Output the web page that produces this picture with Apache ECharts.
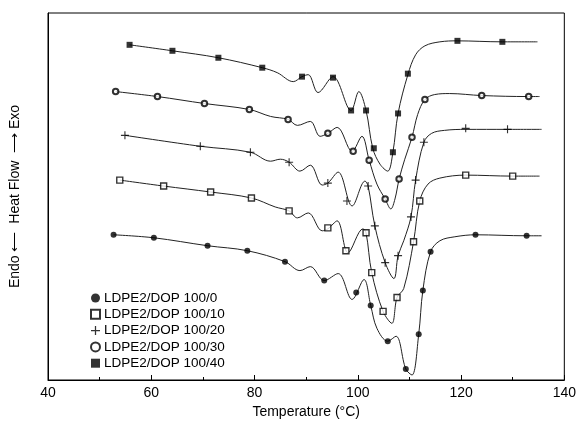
<!DOCTYPE html>
<html>
<head>
<meta charset="utf-8">
<script src="https://cdn.jsdelivr.net/npm/echarts@6/dist/echarts.min.js"></script>
<style>
html, body { margin: 0; background: #fff; }
#main { width: 579px; height: 424px; }
</style>
</head>
<body>
<div id="main"></div>
<script>
// curves: [temperature, heat flow (arb. units, offset per sample)]
var curve0 = [[52.7,146],[60.5,143],[70.9,135],[78.6,130],[85.9,119],[88.8,110],[90.8,114],[93.5,100],[96.2,107],[98.9,81],[101.2,101],[102.5,75],[103.7,52],[105.8,39],[107.4,44],[109.3,11],[110.5,5],[111.8,46],[112.6,90],[114.1,129],[115.9,140],[118.8,144],[122.8,146],[132.7,145],[135.6,145]];
var curve10 = [[53.9,201],[62.4,195],[71.5,189],[79.4,183],[84.0,174],[86.7,170],[88.3,163],[90.4,168],[93.1,150],[94.2,152],[96.0,160],[98.1,128],[101.0,152],[101.6,148],[102.7,108],[104.9,69],[106.6,57],[107.6,83],[108.9,92],[110.8,139],[112.0,180],[113.6,197],[115.9,203],[120.9,206],[130.0,205],[135.2,205]];
var curve20 = [[54.9,246],[69.5,235],[79.2,229],[83.1,220],[85.0,222],[86.7,219],[88.8,210],[90.8,216],[93.1,196],[94.2,198],[96.2,209],[98.9,175],[101.4,200],[102.0,195],[103.3,155],[105.3,118],[107.0,102],[107.8,125],[108.9,140],[110.3,164],[111.2,201],[112.8,239],[114.3,248],[116.8,251],[120.9,252],[129.0,252],[135.6,252]];
var curve30 = [[53.1,290],[61.2,285],[70.3,278],[79.0,272],[83.1,265],[86.5,262],[88.3,256],[90.8,260],[92.7,245],[94.2,248],[96.0,254],[98.9,230],[100.8,245],[102.2,221],[103.7,197],[105.3,182],[106.4,172],[107.2,182],[108.0,202],[109.1,222],[110.5,244],[111.6,267],[113.0,282],[114.9,287],[117.8,288],[124.0,286],[133.1,285],[135.2,285]];
var curve40 = [[55.8,337],[64.1,331],[73.0,324],[81.5,314],[84.4,309],[87.5,300],[89.2,305],[90.4,307],[92.3,289],[95.2,305],[98.7,271],[100.2,290],[101.6,271],[102.9,233],[104.3,217],[105.8,210],[106.8,229],[107.8,268],[109.7,307],[111.2,327],[113.0,336],[115.9,340],[119.3,341],[128.0,340],[134.8,340]];

// symbols along each curve
var marks0 = [[52.7,146],[60.5,143],[70.9,135],[78.6,130],[85.9,119],[93.5,100],[99.7,88],[102.5,75],[105.8,39],[109.3,11],[111.8,46],[112.6,90],[114.1,129],[122.8,146],[132.7,145]];
var marks10 = [[53.9,201],[62.4,195],[71.5,189],[79.4,183],[86.7,170],[94.2,153],[97.7,130],[101.6,148],[102.7,108],[104.9,69],[107.6,83],[110.8,139],[112.0,180],[120.9,206],[130.0,205]];
var marks20 = [[54.9,246],[69.5,235],[79.2,229],[86.7,219],[94.2,198],[97.9,180],[102.0,195],[103.3,155],[105.3,118],[107.8,125],[110.3,164],[111.2,201],[112.8,239],[120.9,253],[129.0,252]];
var marks30 = [[53.1,290],[61.2,285],[70.3,278],[79.0,272],[86.5,262],[94.2,248],[99.1,230],[102.2,221],[105.3,182],[108.0,202],[110.5,244],[113.0,282],[124.0,286],[133.1,285]];
var marks40 = [[55.8,337],[64.1,331],[73.0,324],[81.5,314],[89.2,305],[95.2,304],[98.7,271],[101.6,271],[103.1,233],[106.8,229],[107.8,268],[109.7,308],[119.3,341],[128.0,340]];

var names = ['LDPE2/DOP 100/0', 'LDPE2/DOP 100/10', 'LDPE2/DOP 100/20', 'LDPE2/DOP 100/30', 'LDPE2/DOP 100/40'];
var xTicks = [40, 60, 80, 100, 120, 140];

var curves = [curve0, curve10, curve20, curve30, curve40];
var marks = [marks0, marks10, marks20, marks30, marks40];

var crossPath = 'path://M4.3,0H5.7V4.3H10V5.7H5.7V10H4.3V5.7H0V4.3H4.3Z';
var symStyles = [
	{ symbol: 'circle', size: 6, itemStyle: { color: '#000' } },
	{ symbol: 'rect', size: 6, itemStyle: { color: '#fff', borderColor: '#000', borderWidth: 1.4 } },
	{ symbol: crossPath, size: 8, itemStyle: { color: '#000' } },
	{ symbol: 'circle', size: 5.5, itemStyle: { color: '#fff', borderColor: '#000', borderWidth: 2 } },
	{ symbol: 'rect', size: 6, itemStyle: { color: '#000' } }
];

var series = [];
curves.forEach(function (c, i) {
	series.push({
		name: 'line' + i,
		type: 'line',
		data: c,
		smooth: 0.35,
		showSymbol: false,
		lineStyle: { color: '#222', width: 1 },
		z: 2
	});
});
marks.forEach(function (m, i) {
	series.push({
		name: names[i],
		type: 'scatter',
		data: m,
		symbol: symStyles[i].symbol,
		symbolSize: symStyles[i].size,
		itemStyle: symStyles[i].itemStyle,
		z: 5
	});
});

var myChart = echarts.init(document.getElementById('main'));
myChart.setOption({
	animation: false,
	backgroundColor: '#fff',
	textStyle: { fontFamily: 'Liberation Sans, Arial, sans-serif' },
	grid: {
		left: 47, right: 14, top: 13, bottom: 42,
		show: true, borderColor: '#000', borderWidth: 1
	},
	legend: {
		orient: 'vertical',
		left: 85, top: 286,
		itemWidth: 9, itemHeight: 9,
		itemGap: 2.3,
		data: names,
		textStyle: { fontSize: 13.5, color: '#000', lineHeight: 13, padding: [0, 0, 0, -1] }
	},
	xAxis: {
		type: 'value',
		min: 40, max: 140, interval: 20,
		name: 'Temperature (°C)',
		nameLocation: 'middle',
		nameGap: 25,
		nameTextStyle: { fontSize: 14, color: '#000' },
		axisLine: { lineStyle: { color: '#000' } },
		axisTick: { inside: true, length: 5, lineStyle: { color: '#000' } },
		minorTick: { show: true, splitNumber: 2, length: 3, lineStyle: { color: '#000' } },
		splitLine: { show: false },
		axisLabel: {
			fontSize: 14, color: '#000', margin: 6,
			formatter: function (v) { return xTicks.indexOf(v) >= 0 ? String(v) : ''; }
		}
	},
	yAxis: {
		type: 'value',
		min: 0, max: 369,
		name: 'Endo ⟵  Heat Flow  ⟶ Exo',
		nameLocation: 'middle',
		nameRotate: 90,
		nameGap: 26,
		nameTextStyle: { fontSize: 14, color: '#000' },
		axisLine: { show: true, lineStyle: { color: '#000' } },
		axisTick: { show: false },
		axisLabel: { show: false },
		splitLine: { show: false }
	},
	series: series
});
</script>
</body>
</html>
